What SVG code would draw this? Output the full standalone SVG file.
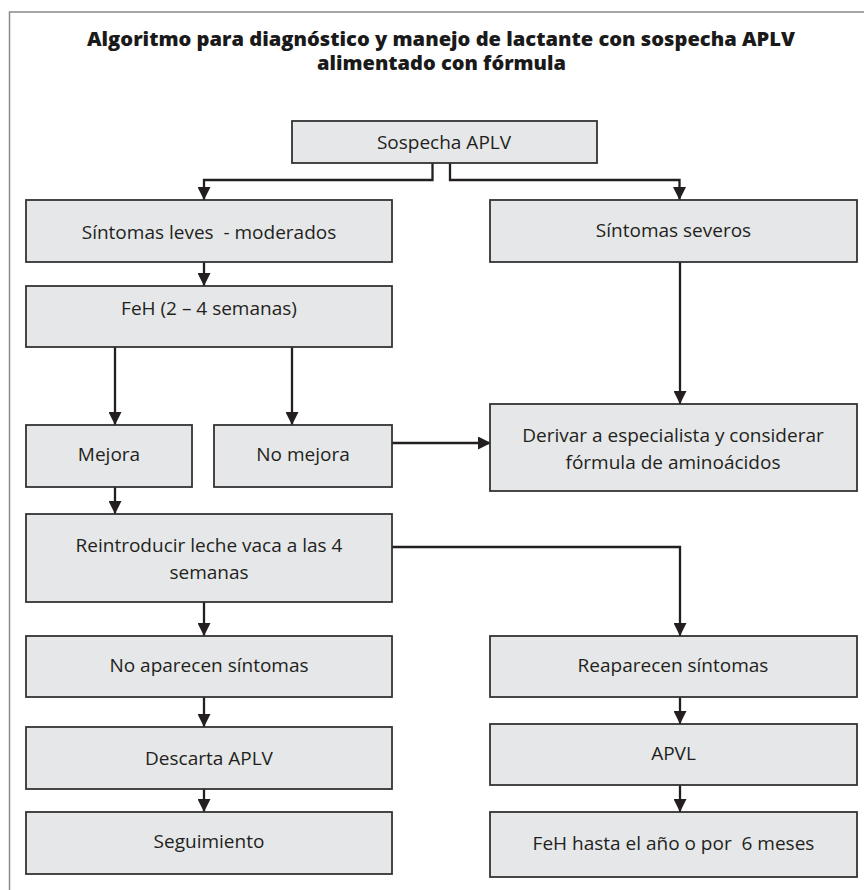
<svg xmlns="http://www.w3.org/2000/svg" width="864" height="890" viewBox="0 0 864 890">
<style>
.box{fill:#e6e7e8;stroke:#333333;stroke-width:1.8}
.t{font-family:"Open Sans","Noto Sans","Liberation Sans",sans-serif;font-size:19px;fill:#231f20;text-anchor:middle}
.title{font-family:"Open Sans","DejaVu Sans","Liberation Sans",sans-serif;font-size:19px;font-weight:800;fill:#1a1a1a;text-anchor:middle}
.c{fill:none;stroke:#231f20;stroke-width:2.3}
</style>
<defs>
<marker id="ah" markerUnits="userSpaceOnUse" markerWidth="13" markerHeight="13" viewBox="0 0 12 12" refX="12" refY="6" orient="auto">
<path d="M0,0 L12,6 L0,12 Z" fill="#231f20"/>
</marker>
</defs>
<rect x="0" y="0" width="864" height="890" fill="#fff"/>
<path d="M9.5,890 V12 H864" fill="none" stroke="#8a8a8a" stroke-width="1.5"/>
<g id="title">
<text class="title" x="441" y="46" textLength="708" lengthAdjust="spacingAndGlyphs">Algoritmo para diagnóstico y manejo de lactante con sospecha APLV</text>
<text class="title" x="441.5" y="70" textLength="249" lengthAdjust="spacingAndGlyphs">alimentado con fórmula</text>
</g>
<g id="connectors">
<path class="c" d="M432.5,163 V180 H204 V200" marker-end="url(#ah)"/>
<path class="c" d="M450,163 V180 H679.5 V200" marker-end="url(#ah)"/>
<path class="c" d="M204,262 V286" marker-end="url(#ah)"/>
<path class="c" d="M115,347 V425" marker-end="url(#ah)"/>
<path class="c" d="M292,347 V425" marker-end="url(#ah)"/>
<path class="c" d="M680,262 V404" marker-end="url(#ah)"/>
<path class="c" d="M392,443 H491" stroke-width="3.2" marker-end="url(#ah)"/>
<path class="c" d="M115,487 V514" marker-end="url(#ah)"/>
<path class="c" d="M392,547 H680 V636" marker-end="url(#ah)"/>
<path class="c" d="M204,602 V636" marker-end="url(#ah)"/>
<path class="c" d="M204,697 V727" marker-end="url(#ah)"/>
<path class="c" d="M204,789 V812" marker-end="url(#ah)"/>
<path class="c" d="M680,697 V724" marker-end="url(#ah)"/>
<path class="c" d="M680,785 V812" marker-end="url(#ah)"/>
</g>
<g id="sospecha"><rect class="box" x="292" y="121" width="305" height="42"/><text class="t" x="444" y="149">Sospecha APLV</text></g>
<g id="leves"><rect class="box" x="26" y="200" width="366" height="62"/><text class="t" x="209" y="239" xml:space="preserve">Síntomas leves  - moderados</text></g>
<g id="severos"><rect class="box" x="490" y="200" width="367" height="62"/><text class="t" x="673.5" y="237">Síntomas severos</text></g>
<g id="feh"><rect class="box" x="26" y="286" width="366" height="61"/><text class="t" x="209" y="315">FeH (2 – 4 semanas)</text></g>
<g id="mejora"><rect class="box" x="26" y="425" width="166" height="62"/><text class="t" x="109" y="461">Mejora</text></g>
<g id="nomejora"><rect class="box" x="214" y="425" width="178" height="62"/><text class="t" x="303" y="461">No mejora</text></g>
<g id="derivar"><rect class="box" x="490" y="404" width="367" height="87"/><text class="t" x="673" y="442">Derivar a especialista y considerar</text><text class="t" x="673" y="469">fórmula de aminoácidos</text></g>
<g id="reintroducir"><rect class="box" x="26" y="514" width="366" height="88"/><text class="t" x="209" y="552">Reintroducir leche vaca a las 4</text><text class="t" x="209" y="579">semanas</text></g>
<g id="noaparecen"><rect class="box" x="26" y="636" width="366" height="61"/><text class="t" x="209" y="672">No aparecen síntomas</text></g>
<g id="reaparecen"><rect class="box" x="490" y="636" width="367" height="61"/><text class="t" x="673" y="672">Reaparecen síntomas</text></g>
<g id="descarta"><rect class="box" x="26" y="727" width="366" height="62"/><text class="t" x="209" y="765">Descarta APLV</text></g>
<g id="apvl"><rect class="box" x="490" y="724" width="367" height="61"/><text class="t" x="673.5" y="760">APVL</text></g>
<g id="seguimiento"><rect class="box" x="26" y="812" width="366" height="62"/><text class="t" x="209" y="848">Seguimiento</text></g>
<g id="fehhasta"><rect class="box" x="490" y="812" width="367" height="65"/><text class="t" x="673.5" y="850" xml:space="preserve">FeH hasta el año o por  6 meses</text></g>
</svg>
